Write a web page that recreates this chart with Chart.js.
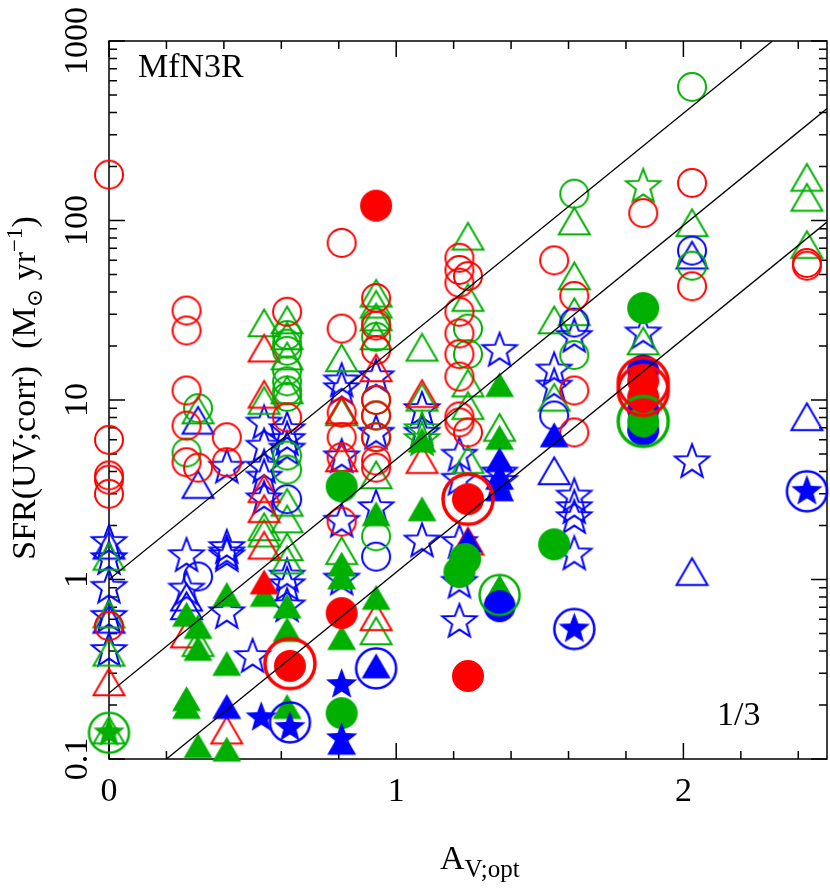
<!DOCTYPE html>
<html lang="en">
<head>
<meta charset="UTF-8">
<title>SFR(UV;corr) vs A_V;opt</title>
<script src="https://cdn.jsdelivr.net/npm/chart.js@4.4.0/dist/chart.umd.min.js"></script>
<style>body{margin:0;background:#fff}canvas{display:block}</style>
</head>
<body>
<canvas id="chart" width="830" height="888"></canvas>
<script>
// [A_V;opt, SFR] pairs, one array per marker kind
const redOpenCircle = [[0,180],[0,6.0],[0,3.8],[0,3.6],[0,3.0],[0,0.55],
  [0.27,31.5],[0.27,24.4],[0.27,11.3],[0.27,7.2],[0.27,4.5],[0.31,4.2],[0.41,6.2],[0.41,4.5],
  [0.62,31],[0.62,8.0],[0.81,75],[0.81,25],[0.81,8.5],[0.81,6.2],[0.81,4.8],[0.81,2.1],
  [0.93,37],[0.93,26],[0.93,19],[0.93,10],[0.93,8.2],[0.93,6.2],[0.93,4.6],[0.93,4.2],
  [1.22,62],[1.22,53],[1.22,45],[1.22,31],[1.22,23.5],[1.22,18],[1.22,13.5],[1.22,8.1],[1.22,7.5],
  [1.25,49],[1.25,6.6],[1.55,60],[1.62,38],[1.62,11.3],[1.62,6.6],[1.86,110],[1.86,32.5],
  [2.03,162],[2.03,43],[2.43,58],[2.43,56]];
const greenOpenCircle = [[0.27,5.1],[0.31,9.0],[0.62,23],[0.62,20.6],[0.62,18.8],[0.62,14.6],[0.62,12.7],
  [0.62,11.3],[0.62,10.4],[0.62,4.9],[0.62,4.1],[0.93,27],[0.93,22.5],[0.93,10],[0.93,8.2],[0.93,6.2],
  [0.93,1.74],[1.25,25],[1.25,18],[1.62,141],[1.62,17.8],[2.03,555],[2.03,56]];
const blueOpenCircle = [[0.31,1.04],[0.62,2.8],[0.93,1.34],[1.55,8.2],[1.62,27],[2.03,68]];
const redOpenTri = [[0,0.26],[0.27,0.48],[0.41,0.14],[0.54,18.8],[0.54,10.4],[0.54,3.1],[0.54,2.4],
  [0.54,1.5],[0.81,8.5],[0.81,4.6],[0.93,14.6],[0.93,0.6],[1.09,10.5],[1.09,4.5],[1.25,1.58]];
const greenOpenTri = [[0,1.3],[0,0.62],[0,0.38],[0,0.14],[0.31,8.5],[0.31,0.43],[0.54,26],[0.54,9.6],
  [0.54,1.9],[0.54,1.75],[0.62,27],[0.62,22],[0.62,17],[0.62,11],[0.62,2.6],[0.62,2.1],[0.62,1.47],
  [0.62,1.24],[0.81,16.6],[0.81,8.3],[0.81,1.4],[0.93,38],[0.93,33],[0.93,28],[0.93,22],[0.93,3.7],
  [0.93,0.5],[1.09,19],[1.09,10],[1.25,79],[1.25,36],[1.25,12],[1.25,9],[1.25,4.5],[1.36,6.8],
  [1.55,27],[1.55,10],[1.62,96],[1.62,47.5],[1.62,30],[1.86,20.6],[2.03,94],[2.43,168],[2.43,130],[2.43,71]];
const blueOpenTri = [[0,1.5],[0,0.58],[0.31,7.45],[0.31,3.27],[0.27,0.77],[0.27,0.69],[1.55,3.9],
  [2.03,62],[2.03,1.07],[2.43,7.8]];
const blueOpenStar = [[0,1.6],[0,1.3],[0,0.9],[0,0.62],[0,0.4],[0.27,1.35],[0.27,0.88],
  [0.41,4.2],[0.41,1.5],[0.41,1.4],[0.41,1.35],[0.41,0.65],[0.5,0.37],
  [0.54,7.4],[0.54,5.5],[0.54,4.2],[0.54,3.7],[0.54,2.8],[0.62,6.8],[0.62,6.0],[0.62,5.3],
  [0.62,1.04],[0.62,0.93],[0.62,0.71],[0.81,12.7],[0.81,11.5],[0.81,4.8],[0.81,2.1],[0.81,1.0],
  [0.93,13.4],[0.93,6.5],[0.93,2.5],[1.09,8.8],[1.09,6.5],[1.09,1.63],
  [1.22,4.9],[1.22,3.6],[1.22,1.6],[1.22,0.96],[1.22,0.58],[1.36,18.8],[1.36,3.9],[1.36,3.5],
  [1.55,14.6],[1.55,11.9],[1.62,22.5],[1.62,2.9],[1.62,2.5],[1.62,2.2],[1.62,1.38],[1.86,23.5],[2.03,4.5]];
const greenOpenStar = [[1.86,154],[1.09,6.8],[1.09,6.0]];
const blueFilledStar = [[0.53,0.17],[0.63,0.15],[0.81,0.26],[0.81,0.13],[1.62,0.53],[2.43,3.1]];
const greenFilledStar = [[0,0.14]];
const greenFilledTri = [[0.27,0.62],[0.27,0.21],[0.27,0.19],[0.31,0.53],[0.31,0.40],[0.31,0.115],
  [0.41,0.80],[0.41,0.33],[0.41,0.11],[0.54,0.8],[0.62,0.69],[0.62,0.51],[0.62,0.19],
  [0.81,1.18],[0.81,1.0],[0.81,0.46],[0.93,2.25],[0.93,0.77],[1.09,5.8],[1.09,2.4],
  [1.36,11.8],[1.36,6.0],[1.36,0.88]];
const blueFilledTri = [[0.41,0.19],[0.81,0.12],[0.93,0.32],[1.36,4.5],[1.36,3.6],[1.36,3.1],[1.55,6.2],[1.25,1.6]];
const redFilledTri = [[0.54,0.94]];
const blueFilledCircle = [[1.36,0.71],[1.86,14.6],[1.86,8.8],[1.86,6.8]];
const greenFilledCircle = [[0.81,3.3],[0.81,0.18],[1.22,1.1],[1.24,1.3],[1.55,1.57],[1.86,32.5],[1.86,7.6]];
const redFilledCircle = [[0.93,121],[0.81,0.65],[0.63,0.33],[1.25,2.8],[1.86,12.8],[1.86,10.4],[1.25,0.29]];
const bigBlueCircle = [[0.63,0.16],[0.93,0.32],[1.62,0.53],[2.43,3.1]];
const bigGreenCircle = [[0,0.14],[1.36,0.82]];
const bigRedCircle = [[0.63,0.34],[1.25,2.8],[1.86,12.5],[1.86,11.3]];
const bigGreenCircle2 = [[1.86,7.6]];

// reference lines, end points
const line1 = [[0,1.0],[2.31,1000]];
const line2 = [[0,0.233],[2.5,420]];
const line3 = [[0.2,0.1],[2.5,98]];

const xTicks = [0, 1, 2];
const yTicks = [0.1, 1, 10, 100, 1000];

const RED = '#ff0000', GREEN = '#00b000', BLUE = '#0000ff';

function marker(shape, color, filled, r, lw) {
  const s = Math.ceil(2 * r + lw + 4);
  const c = document.createElement('canvas');
  c.width = s; c.height = s;
  const g = c.getContext('2d');
  const cx = s / 2, cy = s / 2;
  g.beginPath();
  if (shape === 'circle') {
    g.arc(cx, cy, r, 0, 2 * Math.PI);
  } else if (shape === 'tri') {
    const h = r * Math.sqrt(3);
    g.moveTo(cx, cy - h * 0.6);
    g.lineTo(cx + r, cy + h * 0.4);
    g.lineTo(cx - r, cy + h * 0.4);
    g.closePath();
  } else {
    for (let k = 0; k < 10; k++) {
      const rr = k % 2 ? r * 0.42 : r;
      const a = -Math.PI / 2 + k * Math.PI / 5;
      const px = cx + rr * Math.cos(a), py = cy + rr * Math.sin(a);
      k ? g.lineTo(px, py) : g.moveTo(px, py);
    }
    g.closePath();
  }
  if (filled) { g.fillStyle = color; g.fill(); }
  else { g.strokeStyle = color; g.lineWidth = lw; g.lineJoin = 'miter'; g.stroke(); }
  return c;
}

const pts = arr => arr.map(([x, y]) => ({x, y}));

// bottom to top
const layers = [
  [blueOpenStar, marker('star', BLUE, false, 18, 2)],
  [greenOpenStar, marker('star', GREEN, false, 18, 2)],
  [blueOpenTri, marker('tri', BLUE, false, 15.5, 2)],
  [greenOpenTri, marker('tri', GREEN, false, 15.5, 2)],
  [redOpenTri, marker('tri', RED, false, 15.5, 2)],
  [blueOpenCircle, marker('circle', BLUE, false, 14, 2)],
  [greenOpenCircle, marker('circle', GREEN, false, 14, 2)],
  [redOpenCircle, marker('circle', RED, false, 14, 2)],
  [greenFilledTri, marker('tri', GREEN, true, 14.5, 0)],
  [blueFilledTri, marker('tri', BLUE, true, 14.5, 0)],
  [redFilledTri, marker('tri', RED, true, 14.5, 0)],
  [blueFilledCircle, marker('circle', BLUE, true, 16, 0)],
  [greenFilledCircle, marker('circle', GREEN, true, 16, 0)],
  [redFilledCircle, marker('circle', RED, true, 16, 0)],
  [blueFilledStar, marker('star', BLUE, true, 16.5, 0)],
  [greenFilledStar, marker('star', GREEN, true, 16.5, 0)],
  [bigBlueCircle, marker('circle', BLUE, false, 20, 2.5)],
  [bigGreenCircle, marker('circle', GREEN, false, 20, 2.5)],
  [bigGreenCircle2, marker('circle', GREEN, false, 25, 3.5)],
  [bigRedCircle, marker('circle', RED, false, 25, 3.5)]
];

const datasets = [];
[line1, line2, line3].forEach(l => datasets.push({
  type: 'scatter', data: pts(l), showLine: true, borderColor: '#000', borderWidth: 1.3,
  pointRadius: 0, clip: 0, order: 0
}));
layers.forEach(([arr, img], i) => datasets.push({
  type: 'scatter', data: pts(arr), pointStyle: img, pointRadius: 10, pointHoverRadius: 10,
  clip: false, order: layers.length - i
}));

const SERIF = '"Liberation Serif", "DejaVu Serif", serif';

const frame = {
  id: 'frame',
  beforeDatasetsDraw(chart) {
    const {ctx, chartArea: a, scales: {x, y}} = chart;
    ctx.save();
    ctx.strokeStyle = '#000';
    ctx.lineWidth = 1.5;
    ctx.strokeRect(a.left, a.top, a.right - a.left, a.bottom - a.top);
    ctx.beginPath();
    for (let i = 0; i <= 12; i++) {
      const px = x.getPixelForValue(i * 0.2);
      const len = i % 5 === 0 ? 16 : 8;
      ctx.moveTo(px, a.bottom); ctx.lineTo(px, a.bottom - len);
      ctx.moveTo(px, a.top); ctx.lineTo(px, a.top + len);
    }
    for (let d = -1; d <= 3; d++) {
      for (let m = 1; m <= 9; m++) {
        const v = m * Math.pow(10, d);
        if (v > 1000.5) break;
        const py = y.getPixelForValue(v);
        const len = m === 1 ? 16 : 8;
        ctx.moveTo(a.left, py); ctx.lineTo(a.left + len, py);
        ctx.moveTo(a.right, py); ctx.lineTo(a.right - len, py);
      }
    }
    ctx.stroke();

    ctx.fillStyle = '#000';
    ctx.font = '34px ' + SERIF;
    ctx.textAlign = 'center';
    ctx.textBaseline = 'alphabetic';
    xTicks.forEach(v => ctx.fillText(String(v), x.getPixelForValue(v), 801));
    yTicks.forEach(v => {
      ctx.save();
      ctx.translate(87, y.getPixelForValue(v));
      ctx.rotate(-Math.PI / 2);
      ctx.fillText(String(v), 0, 0);
      ctx.restore();
    });

    // x title
    ctx.textAlign = 'left';
    ctx.font = '34px ' + SERIF;
    ctx.fillText('A', 440, 869);
    const aw = ctx.measureText('A').width;
    ctx.font = '25px ' + SERIF;
    ctx.fillText('V;opt', 440 + aw, 877);

    // y title
    const parts = [['SFR(UV;corr)  (M', 34, 0], ['\u2299', 22, 7], [' yr', 34, 0], ['\u22121', 23, -13], [')', 34, 0]];
    let total = 0;
    parts.forEach(p => { ctx.font = p[1] + 'px ' + SERIF; total += ctx.measureText(p[0]).width; });
    ctx.save();
    ctx.translate(35, 388 + total / 2);
    ctx.rotate(-Math.PI / 2);
    let pos = 0;
    parts.forEach(p => {
      ctx.font = p[1] + 'px ' + SERIF;
      ctx.fillText(p[0], pos, p[2]);
      pos += ctx.measureText(p[0]).width;
    });
    ctx.restore();

    ctx.font = '34px ' + SERIF;
    ctx.fillText('MfN3R', 138, 77);
    ctx.fillText('1/3', 717, 725);
    ctx.restore();
  }
};

new Chart(document.getElementById('chart'), {
  type: 'scatter',
  data: {datasets},
  options: {
    responsive: false,
    animation: false,
    layout: {autoPadding: false, padding: {left: 109, right: 3, top: 41, bottom: 129}},
    plugins: {legend: {display: false}, tooltip: {enabled: false}},
    scales: {
      x: {type: 'linear', min: 0, max: 2.5, display: false},
      y: {type: 'logarithmic', min: 0.1, max: 1000, display: false}
    }
  },
  plugins: [frame]
});
</script>
</body>
</html>
